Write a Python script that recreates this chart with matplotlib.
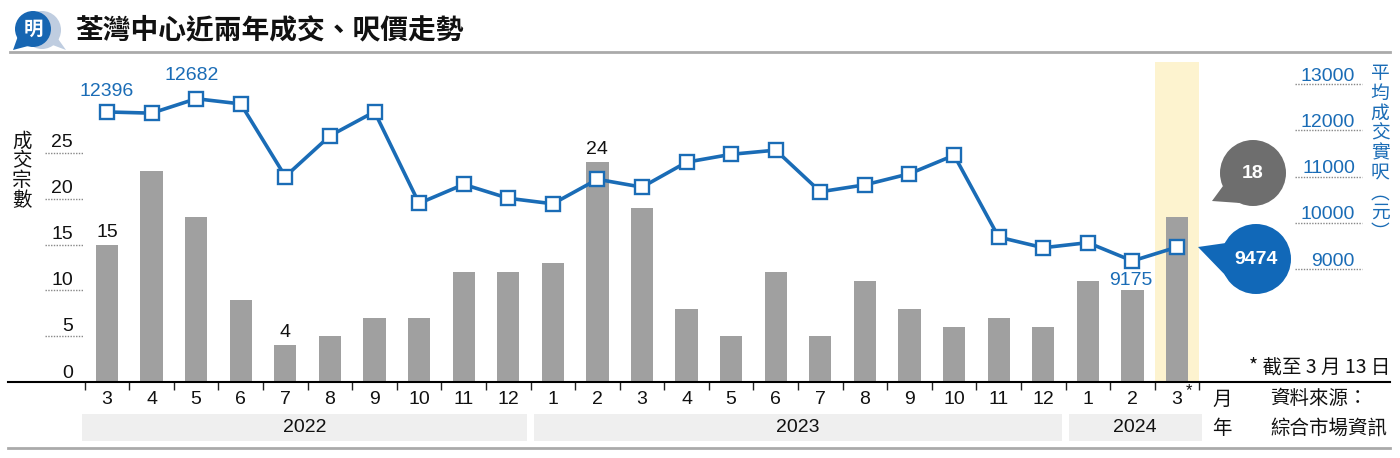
import matplotlib
matplotlib.use("Agg")
import matplotlib.pyplot as plt
from matplotlib.patches import Rectangle, Circle, Polygon
from matplotlib.transforms import blended_transform_factory
import numpy as np

# data
months = ['3', '4', '5', '6', '7', '8', '9', '10', '11', '12',
          '1', '2', '3', '4', '5', '6', '7', '8', '9', '10', '11', '12',
          '1', '2', '3']
years = ['2022', '2023', '2024']
year_span = [(0, 9), (10, 21), (22, 24)]
deals = [15, 23, 18, 9, 4, 5, 7, 7, 12, 12,
         13, 24, 19, 8, 5, 12, 5, 11, 8, 6, 7, 6,
         11, 10, 18]
price = [12396, 12370, 12682, 12570, 11000, 11880, 12400, 10420, 10830, 10530,
         10410, 10940, 10770, 11310, 11480, 11570, 10670, 10820, 11060, 11460, 9690, 9460,
         9570, 9175, 9474]
left_ticks = [0, 5, 10, 15, 20, 25]
right_ticks = [9000, 10000, 11000, 12000, 13000]

BLUE = '#1a6cb6'
GREY = '#a0a0a0'
CJK = ['Noto Sans CJK TC', 'DejaVu Sans']
NUM = ['Liberation Sans Narrow', 'Liberation Sans', 'DejaVu Sans']
plt.rcParams['font.family'] = CJK

W, H = 1400, 458
def fx(px):
    return px / W
def fy(py):
    return 1 - py / H

fig = plt.figure(figsize=(14, 4.58), dpi=100)

# main axes: x 8..1390 px, y 62..382 px
step = 44.58
ax = fig.add_axes([fx(8), fy(382), (1390 - 8) / W, (382 - 62) / H])
ax.set_xlim(-(107 - 8) / step, 24 + (1390 - 1177) / step)
ax.set_ylim(0, 320 / 9.16)
for s in ['top', 'left', 'right']:
    ax.spines[s].set_visible(False)
ax.spines['bottom'].set_linewidth(1.5)
ax.set_yticks([])
ax.set_xticks(np.arange(-0.5, 25, 1))
ax.set_xticklabels([])
ax.tick_params(axis='x', length=6, width=1, color='#222', direction='out')

x = np.arange(len(deals))
ax.axvspan(23.5, 24.5, color='#fdf3cf', zorder=0, lw=0)
ax.bar(x, deals, width=0.5, color=GREY, zorder=2)

ax2 = ax.twinx()
ax2.set_ylim(6557, 13476)
ax2.axis('off')
ax2.plot(x, price, color=BLUE, lw=2.6, marker='s', ms=9.5, mfc='white',
         mec=BLUE, mew=1.7, zorder=3)

# left tick labels with dotted guides
tl = blended_transform_factory(fig.transFigure, ax.transData)
for v in left_ticks:
    if v > 0:
        ax.plot([fx(45), fx(83)], [v, v], transform=tl, ls=(0, (1, 1)),
                lw=1, color='#888888', clip_on=False)
    ax.annotate(str(v), xy=(fx(73), v), xycoords=tl, xytext=(0, 10 if v else 9),
                textcoords='offset pixels', ha='right', va='center',
                fontsize=14, family=NUM, color='#111')

tr = blended_transform_factory(fig.transFigure, ax2.transData)
for v in right_ticks:
    ax2.plot([fx(1295), fx(1362)], [v, v], transform=tr, ls=(0, (1, 1)),
             lw=1, color='#888888', clip_on=False)
    ax2.annotate(str(v), xy=(fx(1355), v), xycoords=tr, xytext=(0, 8),
                 textcoords='offset pixels', ha='right', va='center',
                 fontsize=14, family=NUM, color=BLUE)

# value labels
for i in [0, 4, 11]:
    ax.annotate(str(deals[i]), xy=(i, deals[i]), xytext=(0, 4),
                textcoords='offset pixels', ha='center', va='bottom',
                fontsize=14, family=NUM, color='#111')
ax2.annotate(str(price[0]), xy=(0, price[0]), xytext=(0, 20),
             textcoords='offset pixels', ha='center', va='center',
             fontsize=14, family=NUM, color=BLUE)
ax2.annotate(str(price[2]), xy=(2, price[2]), xytext=(-4, 23),
             textcoords='offset pixels', ha='center', va='center',
             fontsize=14, family=NUM, color=BLUE)
ax2.annotate(str(price[23]), xy=(23, price[23]), xytext=(-2, -20),
             textcoords='offset pixels', ha='center', va='center',
             fontsize=14, family=NUM, color=BLUE)

# month labels and year bands
tb = blended_transform_factory(ax.transData, fig.transFigure)
for i, m in enumerate(months):
    ax.text(i, fy(399), m, transform=tb, ha='center', va='center',
            fontsize=14, family=NUM, color='#111')
ax.text(24 + 0.2, fy(391), '*', transform=tb, ha='left', va='center',
        fontsize=12, family=NUM, color='#111')
for yr, (a, b) in zip(years, year_span):
    x0 = a - 0.42 if a > 0 else -0.55
    x1 = b + 0.42 if b < 24 else 24.55
    ax.add_patch(Rectangle((x0, fy(441)), x1 - x0, (441 - 414) / H,
                           transform=tb, color='#efefef', lw=0, clip_on=False))
    ax.text((x0 + x1) / 2, fy(428), yr, transform=tb, ha='center', va='center',
            fontsize=14, family=NUM, color='#111')

# overlay for decorations in pixel space
deco = fig.add_axes([0, 0, 1, 1])
deco.set_xlim(0, W)
deco.set_ylim(H, 0)
deco.axis('off')
deco.patch.set_alpha(0)

# logo + title
deco.add_patch(Circle((42, 30), 19, color='#bfcde0', lw=0))
deco.add_patch(Polygon([[50, 44], [66, 50], [56, 36]], closed=True, color='#bfcde0', lw=0))
deco.add_patch(Circle((33, 29), 18, color='#1766b2', lw=0))
deco.add_patch(Polygon([[18, 36], [13, 50], [32, 45]], closed=True, color='#1766b2', lw=0))
deco.text(33, 29, '明', color='white', fontsize=14, fontweight='bold',
          ha='center', va='center', style='italic')
deco.text(75, 30, '荃灣中心近兩年成交、呎價走勢', fontsize=20, fontweight='bold',
          ha='left', va='center', color='#111')
deco.plot([10, 1390], [52, 52], color='#aaaaaa', lw=2)
deco.plot([8, 1390], [448, 448], color='#aaaaaa', lw=2)

# axis titles
deco.text(22, 171, '\n'.join('成交宗數'), fontsize=14, ha='center', va='center',
          linespacing=0.93, color='#111')
deco.text(1380, 153, '\n'.join('平均成交實呎︵元︶'), fontsize=13.5, ha='center',
          va='center', linespacing=0.93, color=BLUE)

# callouts
deco.add_patch(Polygon([[1223, 186], [1212, 201], [1240, 203]], closed=True,
                       color='#6e6e6e', lw=0))
deco.add_patch(Circle((1253, 173), 33, color='#6e6e6e', lw=0))
deco.text(1253, 174, str(deals[-1]), color='white', fontsize=14, fontweight='bold',
          ha='center', va='center', family=['Liberation Sans', 'DejaVu Sans'])
deco.add_patch(Polygon([[1198, 247], [1226, 243], [1228, 278]], closed=True,
                       color='#1168b8', lw=0))
deco.add_patch(Circle((1256, 259), 35, color='#1168b8', lw=0))
deco.text(1256, 260, str(price[-1]), color='white', fontsize=14, fontweight='bold',
          ha='center', va='center', family=['Liberation Sans', 'DejaVu Sans'])

# footnotes
deco.text(1390, 367, '* 截至 3 月 13 日', fontsize=14, ha='right', va='center', color='#111')
deco.text(1222, 399, '月', fontsize=14, ha='center', va='center', color='#111')
deco.text(1222, 428, '年', fontsize=14, ha='center', va='center', color='#111')
deco.text(1270, 399, '資料來源：', fontsize=14, ha='left', va='center', color='#111')
deco.text(1270, 428, '綜合市場資訊', fontsize=14, ha='left', va='center', color='#111')

fig.savefig('out.png', dpi=100)
